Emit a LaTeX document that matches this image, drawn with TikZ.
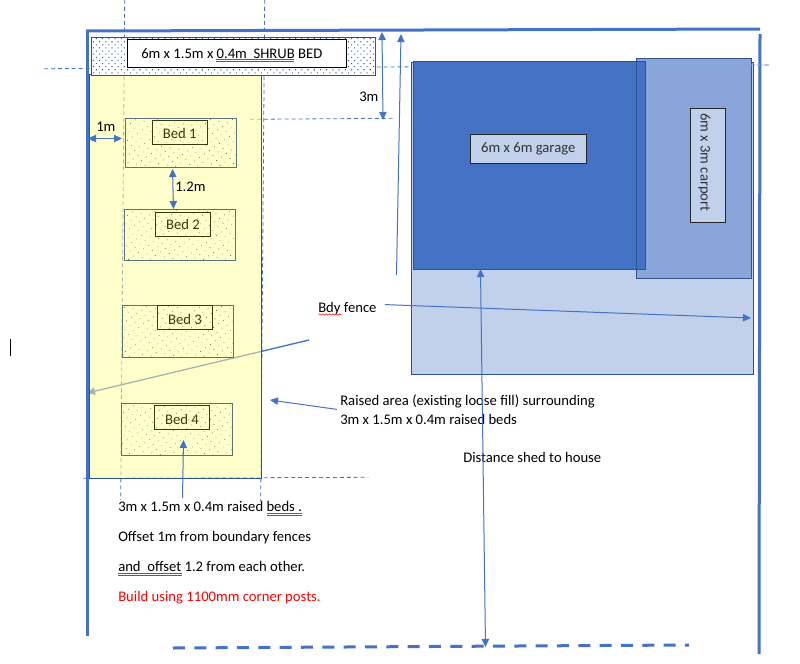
\documentclass[tikz,border=0pt]{standalone}
\usepackage{fontspec}
\setmainfont{Carlito}
\usetikzlibrary{arrows.meta,patterns.meta,decorations.pathmorphing}
\definecolor{fenceblue}{HTML}{4472C4}
\definecolor{edgeblue}{HTML}{2F528F}
\definecolor{paleblue}{HTML}{C1D0EB}
\definecolor{midblue}{HTML}{89A5DA}
\definecolor{fillyellow}{HTML}{FFFF99}
\definecolor{bededge}{HTML}{55757A}
\definecolor{bedtext}{HTML}{3A3A12}
\definecolor{underblue}{HTML}{1F66E5}
\tikzset{
  every node/.style={font=\fontsize{11}{13}\selectfont,inner sep=0pt},
  fence/.style={draw=fenceblue,line width=2.25pt},
  guide/.style={draw=fenceblue,line width=.6pt,dash pattern=on 3pt off 2.2pt},
  dim/.style={draw=fenceblue,line width=.75pt,-{Triangle[length=6pt,width=5.5pt]}},
  dimboth/.style={draw=fenceblue,line width=.75pt,{Triangle[length=6pt,width=5.5pt]}-{Triangle[length=6pt,width=5.5pt]}},
  bedplot/.style={draw=bededge,line width=.75pt,pattern={Dots[distance=4.6pt,radius=.3pt,angle=35]},pattern color=black!80},
  bedlabel/.style={draw=bedtext,line width=.75pt,text=bedtext,minimum width=41.6pt,minimum height=18pt,text height=9.6pt,text depth=0pt},
  bluelabel/.style={draw=black!85,line width=.75pt,fill=paleblue,text=black!80},
  note/.style={anchor=base west},
  under/.style={draw=underblue,line width=.4pt},
}
\begin{document}
\begin{tikzpicture}[x=.75pt,y=-.75pt]
\useasboundingbox (0,0) rectangle (800,664);
% ends of the arrows
\coordinate (oneA) at (88,138.5);
\coordinate (oneB) at (122,138.5);
\coordinate (gapA) at (172.5,169);
\coordinate (gapB) at (173.5,209);
\coordinate (threeA) at (382,32);
\coordinate (threeB) at (383,120);
\coordinate (upA) at (396.5,275);
\coordinate (upB) at (401,34);
\coordinate (bdyTip) at (751,318);
\coordinate (bdyStart) at (309,340);
\coordinate (bdyLeft) at (87,393);
\coordinate (raisedTip) at (270,400);
\coordinate (shedA) at (480.5,269);
\coordinate (shedB) at (485.5,647);
\coordinate (bedsTip) at (183.5,440);
\coordinate (bedsStart) at (182.5,498);
% guide lines
\draw[guide] (124.7,0)--(120.7,500);
\draw[guide] (264.7,0)--(260.7,501.7);
\draw[guide] (44,68.7)--(770,65);
\draw[guide] (250,119.3)--(393,118.3);
\draw[guide] (83.3,478.3)--(368.3,477.3);
% fences
\draw[fence] (86,31)--(760,29);
\draw[fence] (87.3,30)--(87.3,636);
\draw[fence] (760,34)--(759,654);
\draw[fence,dash pattern=on 9pt off 7pt] (173,648)--(689,645);
\draw[dim,line width=1pt] (bdyStart)--(bdyLeft);
% raised area
\draw[draw=edgeblue,line width=.75pt,fill=fillyellow,fill opacity=.5] (89.5,74) rectangle (261.5,478);
% shrub bed
\fill[white] (91.5,37.5) rectangle (375.5,75.5);
\draw[draw=edgeblue,line width=.75pt,pattern={Dots[distance=3.3pt,radius=.55pt,angle=45]},pattern color=fenceblue!80!black] (91.5,37.5) rectangle (375.5,75.5);
\node[draw=black,line width=.75pt,fill=white,minimum width=164pt,minimum height=21pt] (shrub) at (237.3,53.5) {};
\node[note] (shrubtext) at (141,58) {6m x 1.5m x 0.4m\ \ SHRUB BED};
\draw[under] (216,59.7)--(294,59.7) (216,61.5)--(294,61.5);
% beds
\draw[bedplot] (125.3,118.3) rectangle (236.7,167.3);
\draw[bedplot] (124.3,209.5) rectangle (235.7,260.3);
\draw[bedplot] (122.3,305.3) rectangle (233.7,357.3);
\draw[bedplot] (121.3,403.3) rectangle (232.7,455.7);
\node[bedlabel] (bedone) at (179.8,132.5) {Bed 1};
\node[bedlabel,text height=6.8pt] (bedtwo) at (183,224.5) {Bed 2};
\node[bedlabel,text height=10.5pt] (bedthree) at (185,317.3) {Bed 3};
\node[bedlabel] (bedfour) at (182,417.8) {Bed 4};
% shed slab, carport, garage
\draw[draw=edgeblue,line width=.75pt,fill=paleblue] (411.5,62) rectangle (753.5,374.5);
\draw[draw=edgeblue,line width=.75pt,fill=midblue] (636.5,58.5) rectangle (751,278.5);
\draw[draw=edgeblue,line width=.75pt,fill=fenceblue] (413,61.5) rectangle (645.5,269.5);
\draw[draw=edgeblue,line width=.75pt] (636.5,61.5)--(636.5,269.5);
\draw[guide,draw=midblue] (645.5,65.8)--(770,65);
\node[bluelabel,minimum width=87pt,minimum height=21.75pt,text height=5.8pt,text depth=0pt] (garage) at (528.3,148.8) {6m x 6m garage};
\node[bluelabel,minimum width=26.25pt,minimum height=85.5pt] (carportbox) at (707.8,165.3) {};
\node[rotate=-90,anchor=base,text=black!80] (carport) at (700.5,162.5) {6m x 3m carport};
% labels
\node[note] (one) at (96,131) {1m};
\node[note] (gap) at (175,191) {1.2m};
\node[note] (three) at (359,101.7) {3m};
\node[note] (bdy) at (318,312) {Bdy fence};
\draw[red,line width=.4pt,decorate,decoration={snake,amplitude=.5pt,segment length=2.5pt}] (318.5,314.5)--(341,314.5);
\node[note] (raisedone) at (340,405) {Raised area (existing loose fill) surrounding};
\node[note] (raisedtwo) at (340,424) {3m x 1.5m x 0.4m raised beds};
\node[note] (shed) at (463,462) {Distance shed to house};
\node[note] (bedsone) at (118,511) {3m x 1.5m x 0.4m raised beds .};
\node[note] (bedstwo) at (118,541) {Offset 1m from boundary fences};
\node[note] (bedsthree) at (118,571) {and\ \ offset 1.2 from each other.};
\node[note,text=red] (bedsfour) at (118,601) {Build using 1100mm corner posts.};
\draw[under] (267,513.3)--(301.5,513.3) (267,515)--(301.5,515);
\draw[under] (118,573.3)--(182,573.3) (118,575)--(182,575);
% arrows
\draw[dimboth] (oneA)--(oneB);
\draw[dimboth] (gapA)--(gapB);
\draw[dimboth] (threeA)--(threeB);
\draw[dim] (upA)--(upB);
\draw[dim] (bdy.east)++(8,-3.5)--(bdyTip);
\draw[dim] (raisedone.west)++(-3,8.5)--(raisedTip);
\draw[dimboth] (shedA)--(shedB);
\draw[dim] (bedsStart)--(bedsTip);
% cursor
\draw[black,line width=.75pt] (10.5,339)--(10.5,356);
\end{tikzpicture}
\end{document}
